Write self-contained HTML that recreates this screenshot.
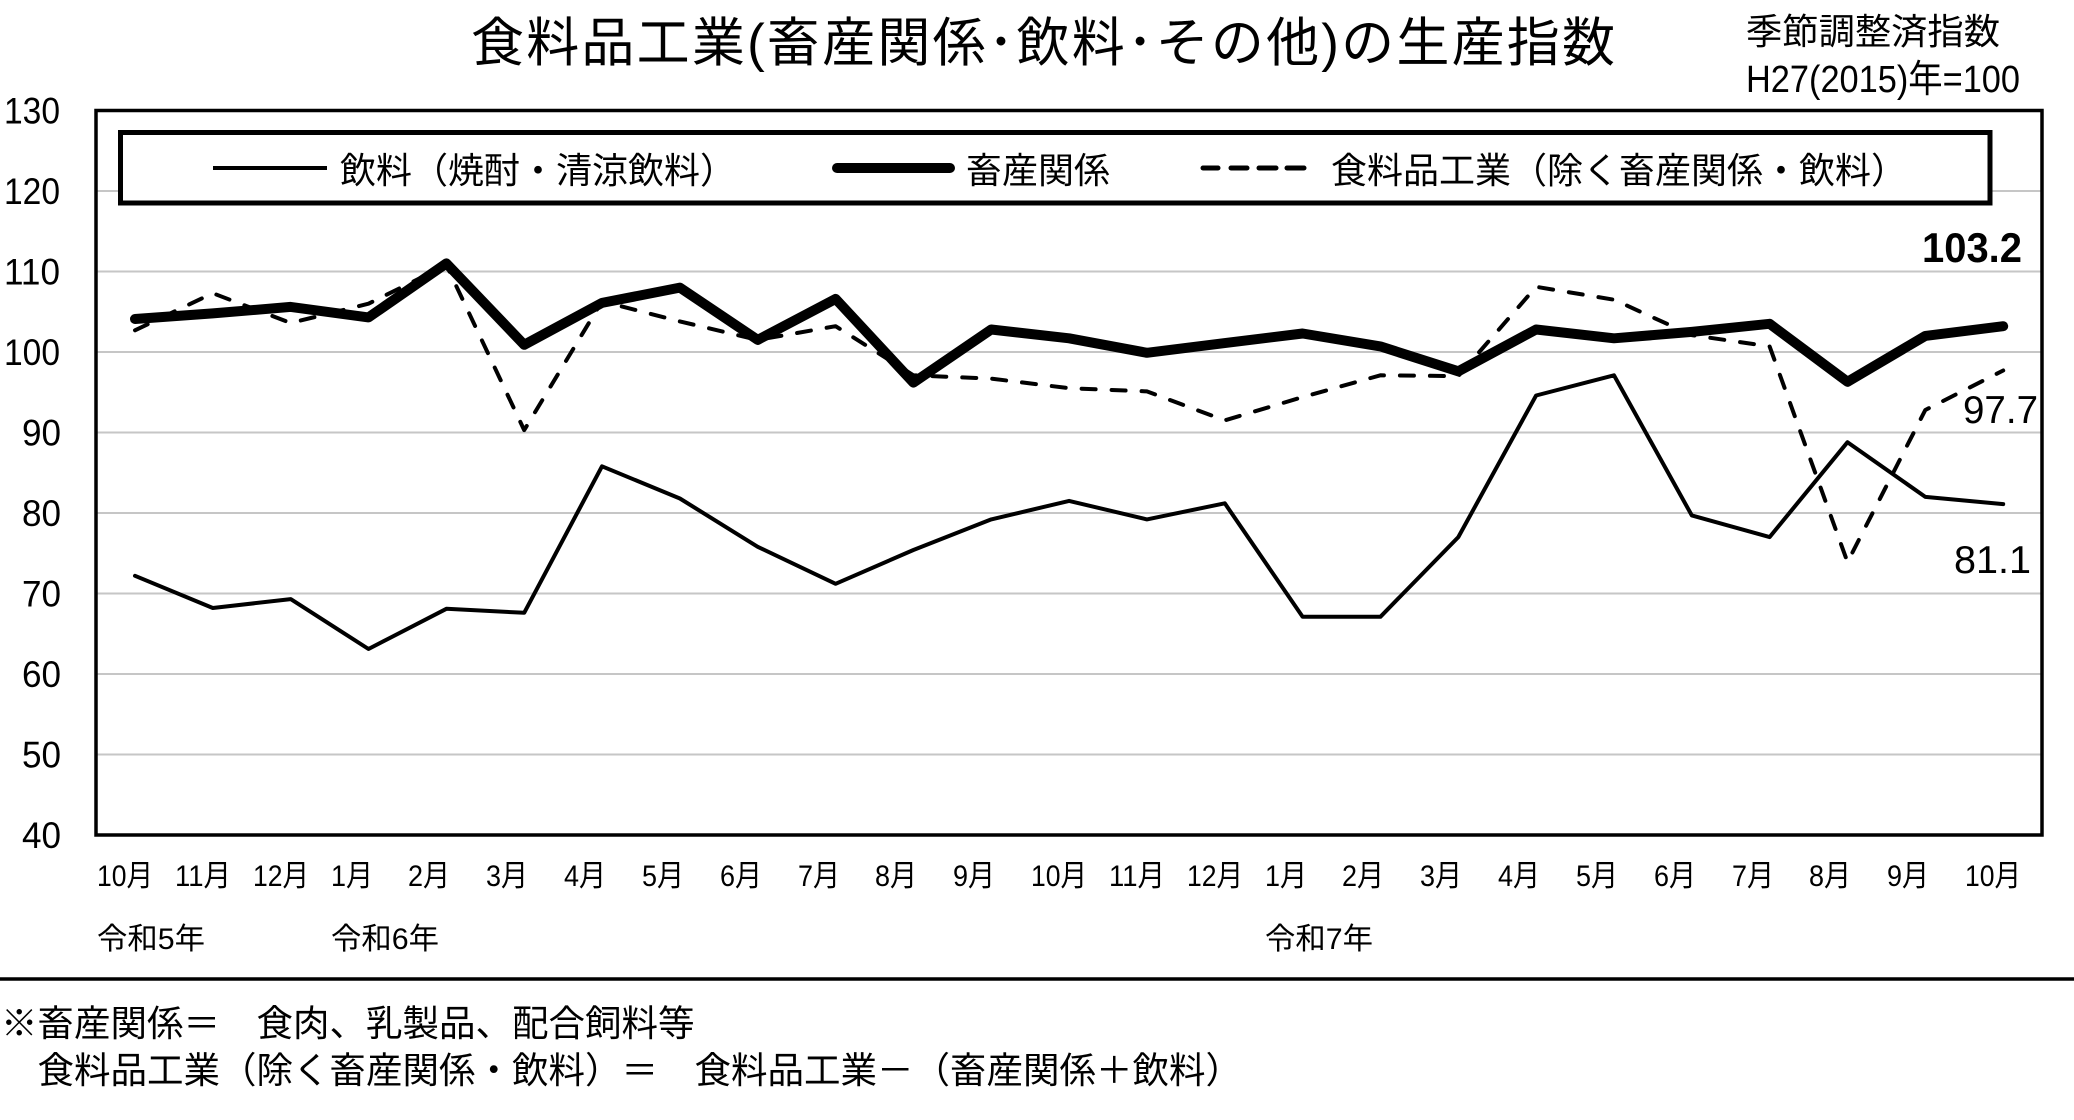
<!DOCTYPE html>
<html><head><meta charset="utf-8"><style>
html,body{margin:0;padding:0;background:#fff;}
svg{display:block;}
text{font-family:"Liberation Sans","Noto Sans CJK JP",sans-serif;fill:#000;}
</style></head><body>
<svg width="2074" height="1120" viewBox="0 0 2074 1120" xmlns="http://www.w3.org/2000/svg">
<rect x="0" y="0" width="2074" height="1120" fill="#fff"/>
<!-- title -->
<text x="471" y="61" font-size="53" textLength="1144" lengthAdjust="spacing">食料品工業(畜産関係･飲料･その他)の生産指数</text>
<text x="1746" y="44" font-size="36" textLength="254" lengthAdjust="spacingAndGlyphs">季節調整済指数</text>
<text x="1746" y="92" font-size="38" textLength="274" lengthAdjust="spacingAndGlyphs">H27(2015)年=100</text>
<!-- gridlines -->
<g stroke="#c6c6c6" stroke-width="2">
<line x1="96" y1="191" x2="2042" y2="191"/>
<line x1="96" y1="271.5" x2="2042" y2="271.5"/>
<line x1="96" y1="352" x2="2042" y2="352"/>
<line x1="96" y1="432.5" x2="2042" y2="432.5"/>
<line x1="96" y1="513" x2="2042" y2="513"/>
<line x1="96" y1="593.5" x2="2042" y2="593.5"/>
<line x1="96" y1="674" x2="2042" y2="674"/>
<line x1="96" y1="754.5" x2="2042" y2="754.5"/>
</g>
<!-- frame -->
<rect x="96" y="110.5" width="1946" height="724.5" fill="none" stroke="#000" stroke-width="3.5"/>
<!-- y labels -->
<g font-size="37">
<text x="4" y="123.5" textLength="56" lengthAdjust="spacingAndGlyphs">130</text>
<text x="4" y="204" textLength="56" lengthAdjust="spacingAndGlyphs">120</text>
<text x="4" y="284.5" textLength="56" lengthAdjust="spacingAndGlyphs">110</text>
<text x="4" y="365" textLength="56" lengthAdjust="spacingAndGlyphs">100</text>
<text x="22" y="445.5" textLength="39" lengthAdjust="spacingAndGlyphs">90</text>
<text x="22" y="526" textLength="39" lengthAdjust="spacingAndGlyphs">80</text>
<text x="22" y="606.5" textLength="39" lengthAdjust="spacingAndGlyphs">70</text>
<text x="22" y="687" textLength="39" lengthAdjust="spacingAndGlyphs">60</text>
<text x="22" y="767.5" textLength="39" lengthAdjust="spacingAndGlyphs">50</text>
<text x="22" y="848" textLength="39" lengthAdjust="spacingAndGlyphs">40</text>
</g>
<!-- series -->
<g fill="none" stroke="#000" stroke-linejoin="round">
<polyline stroke-width="4" points="135.0,575.8 212.8,608.0 290.7,599.1 368.5,649.0 446.4,608.8 524.2,612.8 602.0,466.3 679.9,498.5 757.7,546.8 835.6,583.8 913.4,550.0 991.2,519.4 1069.1,500.9 1146.9,519.4 1224.8,503.3 1302.6,616.8 1380.4,616.8 1458.3,537.1 1536.1,395.5 1614.0,375.3 1691.8,515.4 1769.6,537.1 1847.5,442.2 1925.3,496.9 2003.2,504.1" stroke-linecap="round"/>
<polyline stroke-width="4" stroke-dasharray="14 16" stroke-linecap="round" points="135.0,330.3 212.8,293.2 290.7,323.0 368.5,303.7 446.4,265.1 524.2,430.1 602.0,301.3 679.9,321.4 757.7,339.9 835.6,326.2 913.4,375.3 991.2,378.6 1069.1,388.2 1146.9,391.4 1224.8,420.4 1302.6,397.1 1380.4,375.3 1458.3,376.1 1536.1,286.8 1614.0,299.7 1691.8,335.1 1769.6,346.4 1847.5,562.1 1925.3,410.0 2003.2,370.5"/>
<polyline stroke-width="10" stroke-linecap="round" points="135.0,319.0 212.8,313.4 290.7,306.9 368.5,317.4 446.4,263.4 524.2,344.8 602.0,302.9 679.9,287.6 757.7,339.9 835.6,298.9 913.4,382.6 991.2,329.5 1069.1,338.3 1146.9,352.8 1224.8,343.1 1302.6,333.5 1380.4,346.4 1458.3,371.3 1536.1,329.5 1614.0,338.3 1691.8,331.9 1769.6,323.8 1847.5,381.8 1925.3,335.9 2003.2,326.2"/>
</g>
<!-- legend -->
<rect x="120.5" y="132.5" width="1869.5" height="70.5" fill="#fff" stroke="#000" stroke-width="5"/>
<line x1="213" y1="168" x2="327" y2="168" stroke="#000" stroke-width="4"/>
<text x="340" y="183" font-size="36">飲料（焼酎・清涼飲料）</text>
<line x1="837" y1="168" x2="950" y2="168" stroke="#000" stroke-width="10" stroke-linecap="round"/>
<text x="966" y="183" font-size="36">畜産関係</text>
<g stroke="#000" stroke-width="5" stroke-linecap="round">
<line x1="1203" y1="168" x2="1218" y2="168"/>
<line x1="1231" y1="168" x2="1247" y2="168"/>
<line x1="1259" y1="168" x2="1276" y2="168"/>
<line x1="1287" y1="168" x2="1304" y2="168"/>
</g>
<text x="1331" y="183" font-size="36">食料品工業（除く畜産関係・飲料）</text>
<!-- data labels -->
<text x="1922" y="262" font-size="42" font-weight="bold" stroke="#000" stroke-width="0" textLength="100" lengthAdjust="spacingAndGlyphs">103.2</text>
<text x="1963" y="423" font-size="39" textLength="75" lengthAdjust="spacingAndGlyphs">97.7</text>
<text x="1954" y="573" font-size="39" textLength="77" lengthAdjust="spacingAndGlyphs">81.1</text>
<!-- month labels -->
<g font-size="30">
<text x="97" y="886" textLength="56" lengthAdjust="spacingAndGlyphs">10月</text>
<text x="175" y="886" textLength="56" lengthAdjust="spacingAndGlyphs">11月</text>
<text x="253" y="886" textLength="56" lengthAdjust="spacingAndGlyphs">12月</text>
<text x="331" y="886" textLength="42" lengthAdjust="spacingAndGlyphs">1月</text>
<text x="408" y="886" textLength="42" lengthAdjust="spacingAndGlyphs">2月</text>
<text x="486" y="886" textLength="42" lengthAdjust="spacingAndGlyphs">3月</text>
<text x="564" y="886" textLength="42" lengthAdjust="spacingAndGlyphs">4月</text>
<text x="642" y="886" textLength="42" lengthAdjust="spacingAndGlyphs">5月</text>
<text x="720" y="886" textLength="42" lengthAdjust="spacingAndGlyphs">6月</text>
<text x="798" y="886" textLength="42" lengthAdjust="spacingAndGlyphs">7月</text>
<text x="875" y="886" textLength="42" lengthAdjust="spacingAndGlyphs">8月</text>
<text x="953" y="886" textLength="42" lengthAdjust="spacingAndGlyphs">9月</text>
<text x="1031" y="886" textLength="56" lengthAdjust="spacingAndGlyphs">10月</text>
<text x="1109" y="886" textLength="56" lengthAdjust="spacingAndGlyphs">11月</text>
<text x="1187" y="886" textLength="56" lengthAdjust="spacingAndGlyphs">12月</text>
<text x="1265" y="886" textLength="42" lengthAdjust="spacingAndGlyphs">1月</text>
<text x="1342" y="886" textLength="42" lengthAdjust="spacingAndGlyphs">2月</text>
<text x="1420" y="886" textLength="42" lengthAdjust="spacingAndGlyphs">3月</text>
<text x="1498" y="886" textLength="42" lengthAdjust="spacingAndGlyphs">4月</text>
<text x="1576" y="886" textLength="42" lengthAdjust="spacingAndGlyphs">5月</text>
<text x="1654" y="886" textLength="42" lengthAdjust="spacingAndGlyphs">6月</text>
<text x="1732" y="886" textLength="42" lengthAdjust="spacingAndGlyphs">7月</text>
<text x="1809" y="886" textLength="42" lengthAdjust="spacingAndGlyphs">8月</text>
<text x="1887" y="886" textLength="42" lengthAdjust="spacingAndGlyphs">9月</text>
<text x="1965" y="886" textLength="56" lengthAdjust="spacingAndGlyphs">10月</text>
<text x="97" y="949" textLength="108" lengthAdjust="spacingAndGlyphs">令和5年</text>
<text x="331" y="949" textLength="108" lengthAdjust="spacingAndGlyphs">令和6年</text>
<text x="1265" y="949" textLength="108" lengthAdjust="spacingAndGlyphs">令和7年</text>
</g>
<!-- separator -->
<line x1="0" y1="979" x2="2074" y2="979" stroke="#000" stroke-width="3.5"/>
<!-- footnotes -->
<text x="1" y="1036" font-size="36.5">※畜産関係＝　食肉、乳製品、配合飼料等</text>
<text x="1" y="1083" font-size="36.5">　食料品工業（除く畜産関係・飲料）＝　食料品工業－（畜産関係＋飲料）</text>
</svg>
</body></html>
